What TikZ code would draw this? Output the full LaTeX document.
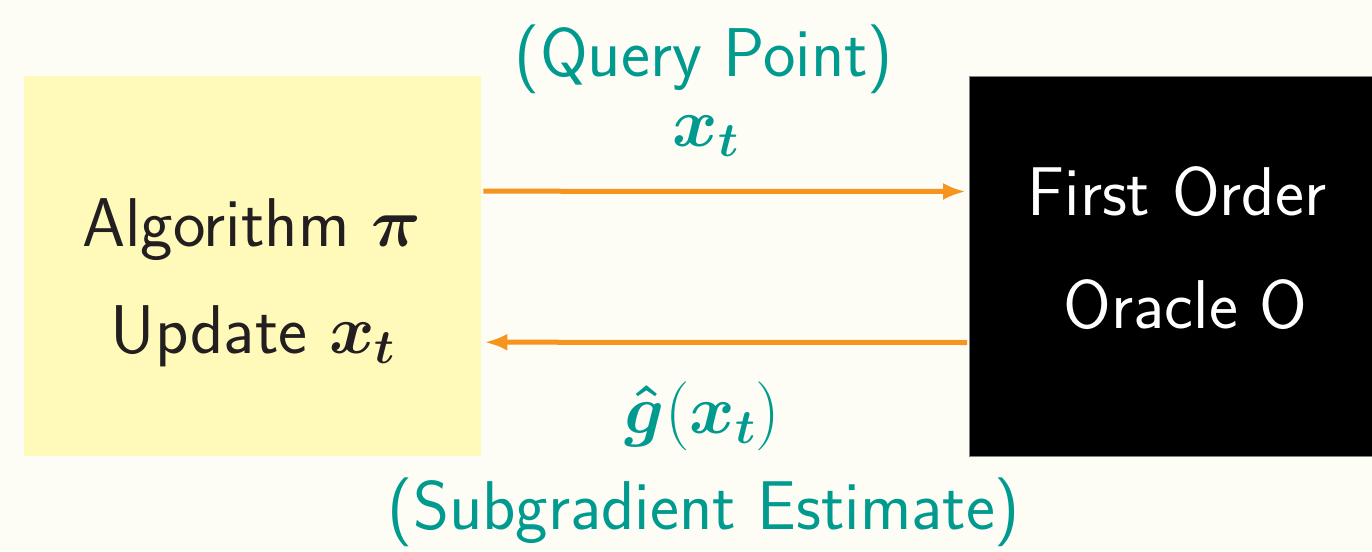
\RequirePackage{fix-cm}
\documentclass[tikz,border=0pt]{standalone}
\usepackage{amsmath,bm}
\usetikzlibrary{arrows.meta}
\definecolor{bgc}{HTML}{FDFDF5}
\definecolor{boxy}{HTML}{FFF9BA}
\definecolor{tealc}{HTML}{009A8E}
\definecolor{orangec}{HTML}{F7941D}
\definecolor{inkc}{HTML}{231F20}
\begin{document}
\begin{tikzpicture}[x=1pt,y=-1pt,
  lbl/.style={font=\fontsize{69}{83}\selectfont\sffamily, inner sep=0pt, anchor=base},
  arr/.style={draw=orangec, line width=5pt, -{Latex[length=23pt,width=17pt]}},
  algbox/.style={fill=boxy, inner sep=0pt, minimum width=457pt, minimum height=380pt, anchor=north west},
  orcbox/.style={fill=black, draw=gray, line width=1pt, inner sep=0pt, minimum width=410pt, minimum height=380pt, anchor=north west}]
\fill[bgc] (0,0) rectangle (1372,551);
\useasboundingbox (0,0) rectangle (1372,551);
\node[algbox] (alg) at (24,76) {};
\node[orcbox] (orc) at (969,76) {};
\node[lbl, text=inkc] (t1) at (251.5,246) {Algorithm $\boldsymbol{\pi}$};
\node[lbl, text=inkc] (t2) at (253,353) {Update $\boldsymbol{x_t}$};
\node[lbl, text=white] (t3) at (1177,215) {First Order};
\node[lbl, text=white] (t4) at (1185.5,328) {Oracle O};
\node[lbl, text=tealc] (q1) at (704,76) {(Query Point)};
\node[lbl, text=tealc] (q2) at (706,146) {$\boldsymbol{x_t}$};
\node[lbl, text=tealc] (g1) at (702.5,433) {$\boldsymbol{\hat{g}}(\boldsymbol{x_t})$};
\node[lbl, text=tealc] (g2) at (704,529) {(Subgradient Estimate)};
\draw[arr] ([xshift=2pt,yshift=75pt]alg.east) -- ([xshift=-3pt,yshift=75pt]orc.west);
\draw[arr] ([xshift=-2pt,yshift=-76pt]orc.west) -- ([xshift=3pt,yshift=-76pt]alg.east);
\end{tikzpicture}
\end{document}
